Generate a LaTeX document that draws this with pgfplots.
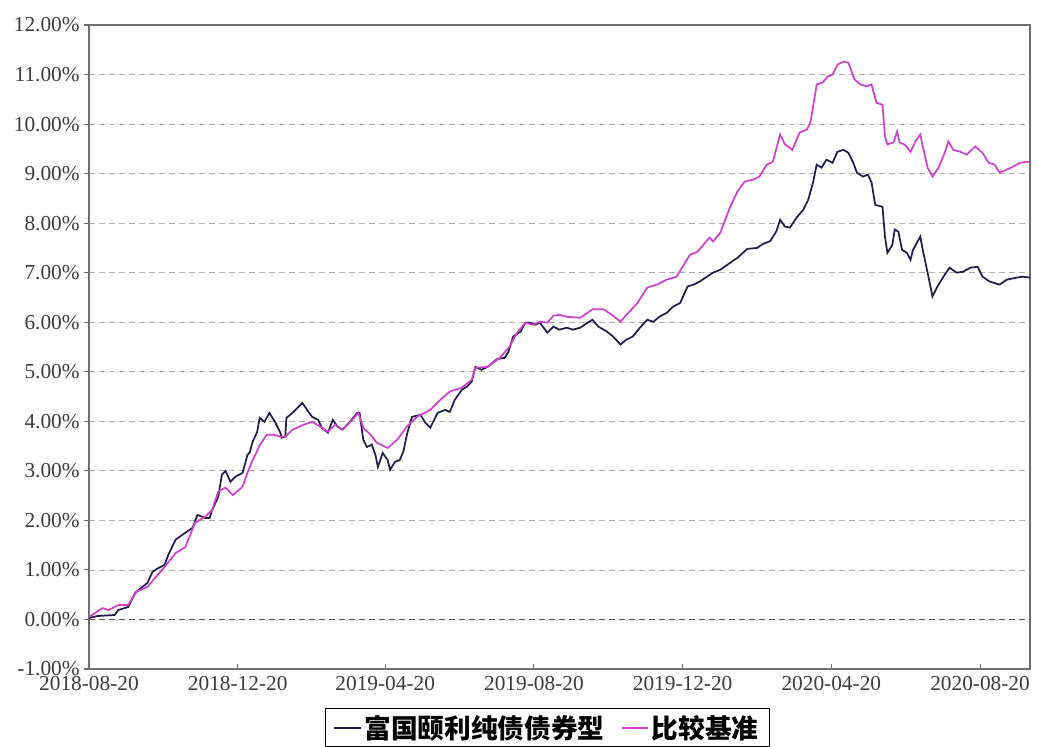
\documentclass[border=0pt]{standalone}
\usepackage{fontspec}
\setmainfont{Liberation Serif}
\newfontfamily\cjk{Noto Sans CJK SC}
\usepackage{pgfplots}
\pgfplotsset{compat=1.18}
\usepackage{pgfplotstable}

\definecolor{fundcol}{RGB}{30,30,72}
\definecolor{benchcol}{RGB}{208,64,208}
\definecolor{axcol}{RGB}{110,110,110}
\definecolor{gridcol}{RGB}{175,175,175}
\definecolor{labcol}{RGB}{60,60,60}

% x = days since 2018-08-20, y = cumulative return in %
\pgfplotstableread{
x y
0 0.03
7 0.07
21 0.09
24 0.19
32 0.25
38 0.54
48 0.74
52 0.96
57 1.04
62 1.10
65 1.30
71 1.61
79 1.75
85 1.85
89 2.11
95 2.05
99 2.05
101 2.21
106 2.47
109 2.92
112 3.00
116 2.78
120 2.88
126 2.96
130 3.32
132 3.38
134 3.57
138 3.79
140 4.07
144 3.99
148 4.17
153 3.97
157 3.77
158 3.67
161 3.69
162 4.07
167 4.17
175 4.37
179 4.23
183 4.09
188 4.03
191 3.87
196 3.77
200 4.03
204 3.89
208 3.83
214 3.99
220 4.17
222 4.17
225 3.63
228 3.48
232 3.53
235 3.32
237 3.08
241 3.36
245 3.22
247 3.02
251 3.18
255 3.22
258 3.40
261 3.75
265 4.09
272 4.13
276 3.97
280 3.87
286 4.17
292 4.23
296 4.19
300 4.43
306 4.64
310 4.70
314 4.80
317 5.10
322 5.04
327 5.10
335 5.26
341 5.28
344 5.40
348 5.71
354 5.81
358 5.99
362 5.99
366 5.95
370 5.99
376 5.79
381 5.91
386 5.85
392 5.89
397 5.85
403 5.89
409 5.99
413 6.05
418 5.91
425 5.81
430 5.71
436 5.55
441 5.65
446 5.71
452 5.89
458 6.05
463 6.01
468 6.11
474 6.19
479 6.31
485 6.39
491 6.72
496 6.76
501 6.82
507 6.92
512 7.00
518 7.06
526 7.20
532 7.30
540 7.48
548 7.50
553 7.58
559 7.64
564 7.84
567 8.07
571 7.93
575 7.91
581 8.13
586 8.27
590 8.47
594 8.82
597 9.18
601 9.12
605 9.28
610 9.22
614 9.44
619 9.48
623 9.42
627 9.22
630 9.02
635 8.94
639 8.98
642 8.82
645 8.37
651 8.33
653 7.73
655 7.40
659 7.56
661 7.87
664 7.83
667 7.46
671 7.40
674 7.26
676 7.46
682 7.73
684 7.46
688 7.00
692 6.52
696 6.72
701 6.92
706 7.10
712 7.00
717 7.02
723 7.10
729 7.12
733 6.92
739 6.82
747 6.76
753 6.86
761 6.90
766 6.92
772 6.90
}\fund

\pgfplotstableread{
x y
0 0.05
11 0.23
16 0.19
24 0.29
32 0.29
39 0.56
48 0.66
62 1.06
71 1.34
79 1.46
87 1.95
95 2.07
101 2.21
106 2.58
112 2.66
118 2.51
126 2.68
130 2.96
134 3.20
137 3.35
140 3.52
146 3.73
151 3.73
157 3.69
161 3.69
167 3.83
176 3.93
183 3.99
190 3.89
196 3.79
202 3.93
208 3.83
216 4.03
221 4.17
225 3.87
231 3.73
236 3.57
245 3.46
253 3.63
261 3.90
269 4.09
280 4.23
288 4.43
296 4.60
306 4.68
314 4.84
317 5.08
327 5.10
337 5.28
345 5.51
351 5.78
358 5.99
364 5.95
370 6.01
376 5.99
381 6.13
386 6.15
392 6.11
403 6.09
413 6.26
422 6.26
429 6.15
436 6.01
441 6.15
450 6.39
458 6.70
466 6.76
474 6.86
482 6.92
487 7.12
493 7.36
499 7.42
504 7.56
509 7.71
512 7.63
518 7.81
526 8.33
532 8.64
538 8.84
545 8.88
550 8.94
556 9.18
561 9.24
567 9.79
571 9.59
577 9.48
583 9.83
589 9.89
592 10.05
597 10.80
602 10.84
606 10.96
610 11.00
614 11.20
619 11.26
623 11.24
628 10.90
633 10.80
638 10.76
642 10.80
646 10.43
651 10.39
653 9.75
655 9.59
660 9.63
663 9.85
665 9.63
669 9.59
674 9.44
678 9.65
682 9.79
684 9.55
688 9.12
692 8.94
697 9.12
702 9.42
705 9.65
709 9.48
715 9.44
720 9.38
727 9.55
733 9.42
738 9.22
743 9.18
747 9.02
753 9.08
758 9.14
764 9.22
770 9.24
772 9.22
}\bench

\begin{document}
\begin{tikzpicture}
\begin{axis}[
    at={(0,0)}, anchor=south west,
    width=705.75pt, height=483pt, scale only axis,
    xmin=0, xmax=772, ymin=-1, ymax=12,
    xtick={0,122,243,365,487,609,731},
    xticklabels={2018-08-20,2018-12-20,2019-04-20,2019-08-20,2019-12-20,2020-04-20,2020-08-20},
    ytick={-1,0,...,12},
    yticklabel={\pgfmathprintnumber[fixed,fixed zerofill,precision=2]{\tick}\%},
    /pgf/number format/assume math mode=true,
    tick label style={font=\fontsize{16}{18}\selectfont, text=labcol},
    xticklabel style={yshift=-2pt},
    axis line style={axcol, line width=1pt},
    tick style={axcol, line width=0.8pt},
    xtick pos=bottom, ytick pos=left,
    xtick align=inside, ytick align=outside,
    major tick length=3.5pt,
    ymajorgrids,
    grid style={gridcol, dashed, dash pattern=on 4.5pt off 3pt, line width=0.6pt},
    extra y ticks={0}, extra y tick labels={},
    extra y tick style={grid style={black!65, dashed, dash pattern=on 4.5pt off 3pt, line width=0.7pt}},
    legend columns=2,
    legend style={at={(0.487,-0.06)}, anchor=north, draw=black, line width=1pt,
        font=\cjk\bfseries\fontsize{20}{24}\selectfont, inner xsep=6pt, inner ysep=3pt,
        /tikz/every even column/.append style={column sep=10pt}},
    legend image code/.code={\draw[#1, line width=1.5pt] (0pt,0pt) -- (20pt,0pt);},
]
\addplot[fundcol, line width=1.3pt] table[x=x, y=y] {\fund};
\addlegendentry{富国颐利纯债债券型}
\addplot[benchcol, line width=1.3pt] table[x=x, y=y] {\bench};
\addlegendentry{比较基准}
\end{axis}
\pgfresetboundingbox
\path[use as bounding box] (-66.75pt,-57.75pt) rectangle (711pt,501.75pt);
\end{tikzpicture}
\end{document}
